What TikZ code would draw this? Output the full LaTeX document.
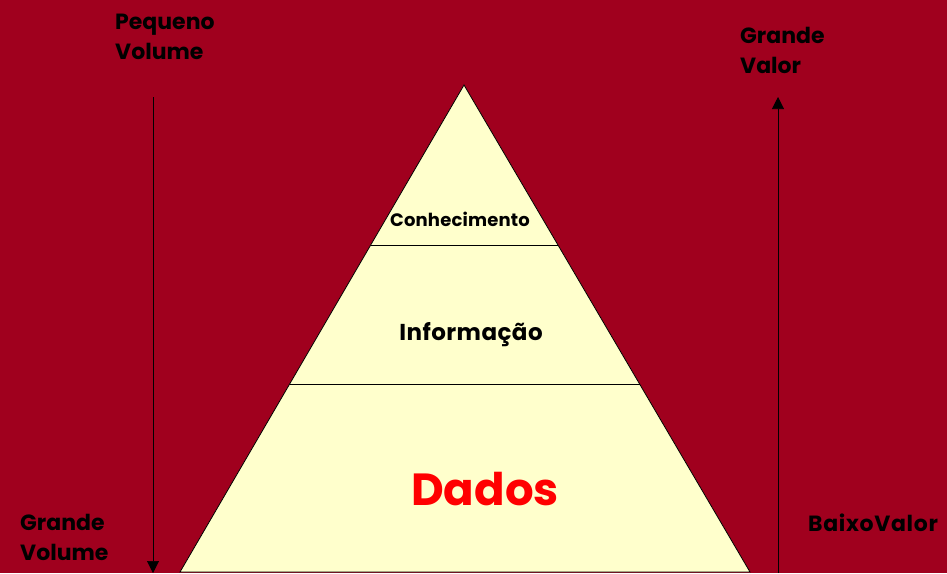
\documentclass[tikz,border=0pt]{standalone}
\usepackage{fontspec}
\setmainfont{Poppins}
\usetikzlibrary{calc,arrows.meta}
\definecolor{bgred}{HTML}{A0001E}
\definecolor{pyr}{HTML}{FFFFCC}
\tikzset{
  lbl/.style={inner sep=0pt, font=\bfseries\fontsize{22}{30}\selectfont, text=black, align=left},
  lvl/.style={inner sep=0pt, text=black, font=\bfseries},
  axis/.style={draw=black, line width=0.6pt, -{Triangle[width=12pt,length=12pt]}},
  band/.style={draw=black, line width=0.8pt}
}
\begin{document}
\begin{tikzpicture}[x=1pt,y=-1pt]
\fill[bgred] (0,0) rectangle (947,573);
\useasboundingbox (0,0) rectangle (947,573);
% pyramid
\coordinate (apex) at (464,85);
\coordinate (bl) at (180,572);
\coordinate (br) at (750,572);
\filldraw[fill=pyr, draw=black, line width=0.8pt] (apex) -- (br) -- (bl) -- cycle;
\coordinate (l1) at ($(apex)!0.3285!(bl)$);
\coordinate (r1) at ($(apex)!0.3285!(br)$);
\coordinate (l2) at ($(apex)!0.614!(bl)$);
\coordinate (r2) at ($(apex)!0.614!(br)$);
\draw[band] (l1) -- (r1);
\draw[band] (l2) -- (r2);
% level labels
\node[lvl, font=\bfseries\fontsize{18}{20}\selectfont\addfontfeatures{LetterSpace=1}, anchor=base] (conh) at (460,226) {Conhecimento};
\node[lvl, font=\bfseries\fontsize{23}{26}\selectfont\addfontfeatures{LetterSpace=2}, anchor=base] (info) at (471,340) {Informação};
\node[lvl, text={rgb,255:red,255;green,0;blue,0}, font=\bfseries\fontsize{45}{50}\selectfont, anchor=base] (dados) at (485,505) {Dados};
% side labels
\node[lbl, anchor=north west] (pv) at (115,14) {Pequeno\\Volume};
\node[lbl, anchor=north west] (gv) at (740,27) {Grande\\Valor};
\node[lbl, anchor=north west] (gvol) at (20,514) {Grande\\Volume};
\node[lbl, anchor=base west, font=\bfseries\fontsize{22}{30}\selectfont\addfontfeatures{LetterSpace=3}] (bv) at (808,531) {BaixoValor};
% axes
\coordinate (a1s) at (153,97);
\coordinate (a1e) at (153,573);
\coordinate (a2s) at (778,573);
\coordinate (a2e) at (778,97);
\draw[axis] (a1s) -- (a1e);
\draw[axis] (a2s) -- (a2e);
\end{tikzpicture}
\end{document}
